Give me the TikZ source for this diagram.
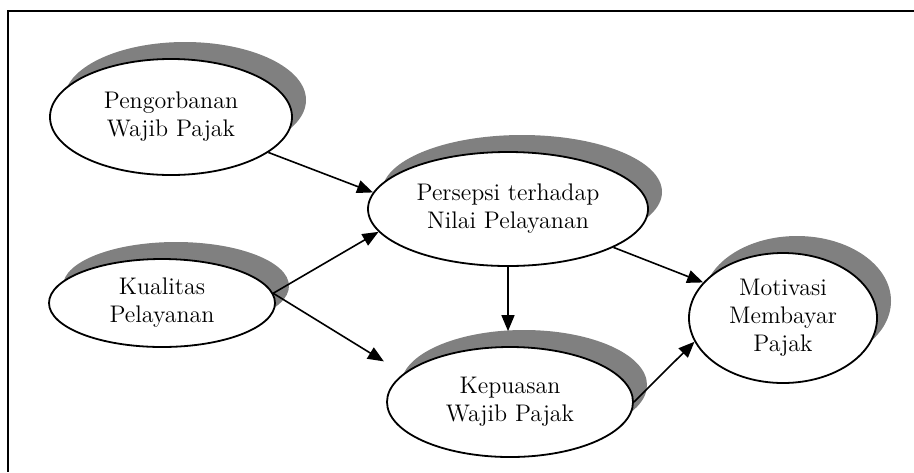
\documentclass[tikz,border=0pt]{standalone}
\usepackage{tikz}
\usetikzlibrary{shapes.geometric, shadows, arrows.meta, positioning}

\begin{document}
\begin{tikzpicture}[x=0.5pt, y=-0.5pt,
			varnode/.style={draw, ellipse, line width=0.9pt, fill=white, inner sep=0pt, align=center, font=\large,
				drop shadow={shadow xshift=7pt, shadow yshift=8.5pt, fill=black!50, opacity=1}},
			arrow/.style={-{Triangle[length=8pt, width=6.5pt]}, line width=0.8pt}
			]
			\useasboundingbox (0,0) rectangle (914,472);
			% Frame
			\draw[line width=1pt] (914,11) -- (8,11) -- (8,472);
			
			% Variables
			\node[varnode, minimum width=121pt, minimum height=58pt] (peng) at (171,117) {Pengorbanan \\ Wajib Pajak};
			\node[varnode, minimum width=113pt, minimum height=44pt] (kual) at (162,303) {Kualitas \\ Pelayanan};
			\node[varnode, minimum width=140pt, minimum height=57pt] (pers) at (508,209) {Persepsi terhadap \\ Nilai Pelayanan};
			\node[varnode, minimum width=123pt, minimum height=55pt] (kepu) at (510,402) {Kepuasan \\ Wajib Pajak};
			\node[varnode, minimum width=94pt, minimum height=65pt] (moti) at (783,318) {Motivasi \\ Membayar \\ Pajak};
			
			% Arrows
			\draw[arrow] (peng.-20) -- (pers.173);
			\draw[arrow] (kual.5) -- (pers.190);
			\draw[arrow, shorten >=11.5pt] (kual.5) -- (kepu.165);
			\draw[arrow, shorten >=7.5pt] (pers.south) -- (pers.south |- kepu.north);
			\draw[arrow] (pers.-20) -- (moti.156);
			\draw[arrow] (kepu.0) -- (moti.195);
		\end{tikzpicture}
\end{document}
